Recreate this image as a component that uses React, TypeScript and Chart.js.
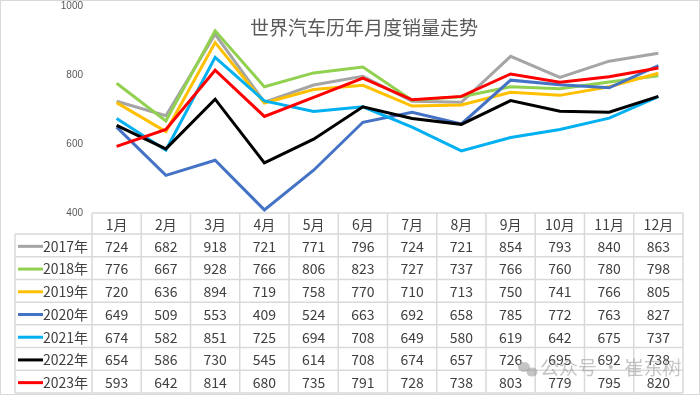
import React, { useEffect, useRef } from "react";
import { Chart, registerables } from "chart.js";

Chart.register(...registerables);

const months = ["1月", "2月", "3月", "4月", "5月", "6月", "7月", "8月", "9月", "10月", "11月", "12月"];
const years = ["2017年", "2018年", "2019年", "2020年", "2021年", "2022年", "2023年"];
const colors = ["#A5A5A5", "#92D050", "#FFC000", "#4472C4", "#00B0F0", "#000000", "#FF0000"];

const s2017 = [724, 682, 918, 721, 771, 796, 724, 721, 854, 793, 840, 863];
const s2018 = [776, 667, 928, 766, 806, 823, 727, 737, 766, 760, 780, 798];
const s2019 = [720, 636, 894, 719, 758, 770, 710, 713, 750, 741, 766, 805];
const s2020 = [649, 509, 553, 409, 524, 663, 692, 658, 785, 772, 763, 827];
const s2021 = [674, 582, 851, 725, 694, 708, 649, 580, 619, 642, 675, 737];
const s2022 = [654, 586, 730, 545, 614, 708, 674, 657, 726, 695, 692, 738];
const s2023 = [593, 642, 814, 680, 735, 791, 728, 738, 803, 779, 795, 820];
const series = [s2017, s2018, s2019, s2020, s2021, s2022, s2023];

const title = "世界汽车历年月度销量走势";
const watermark = "公众号 · 崔东树";

const CJK = '"Noto Sans CJK SC", "Microsoft YaHei", sans-serif';

const tablePlugin = {
  id: "tablePlugin",
  afterDraw(chart: any) {
    const ctx = chart.ctx as CanvasRenderingContext2D;
    const x = chart.scales.x;
    const area = chart.chartArea;
    const n = months.length;
    const colW = (area.right - area.left) / n;
    const headTop = area.bottom;
    const headBot = headTop + 21;
    const tableBot = 393;
    const rowH = (tableBot - headBot) / years.length;
    const legendLeft = 15;
    ctx.save();
    // title
    ctx.fillStyle = "#595959";
    ctx.font = `19px ${CJK}`;
    ctx.textAlign = "center";
    ctx.textBaseline = "middle";
    ctx.fillText(title, 364, 28);

    // grid
    ctx.strokeStyle = "#D9D9D9";
    ctx.lineWidth = 1.5;
    ctx.beginPath();
    ctx.moveTo(area.left, headTop);
    ctx.lineTo(area.right, headTop);
    for (let r = 0; r <= years.length; r++) {
      const y = headBot + r * rowH;
      ctx.moveTo(legendLeft, y);
      ctx.lineTo(area.right, y);
    }
    for (let c = 0; c <= n; c++) {
      const xx = area.left + c * colW;
      ctx.moveTo(xx, headTop);
      ctx.lineTo(xx, tableBot);
    }
    ctx.moveTo(legendLeft, headBot);
    ctx.lineTo(legendLeft, tableBot);
    ctx.stroke();

    // header
    ctx.fillStyle = "#404040";
    ctx.font = `14px ${CJK}`;
    ctx.textAlign = "center";
    months.forEach((m, i) => {
      ctx.fillText(m, x.getPixelForValue(i), (headTop + headBot) / 2 + 1);
    });
    // rows
    series.forEach((s, r) => {
      const cy = headBot + r * rowH + rowH / 2 + 1;
      ctx.strokeStyle = colors[r];
      ctx.lineWidth = 3;
      ctx.beginPath();
      ctx.moveTo(18, cy);
      ctx.lineTo(43, cy);
      ctx.stroke();
      ctx.fillStyle = "#404040";
      ctx.textAlign = "right";
      ctx.fillText(years[r], 88, cy);
      ctx.textAlign = "center";
      s.forEach((v, i) => {
        ctx.fillText(String(v), x.getPixelForValue(i), cy);
      });
    });

    // watermark
    ctx.fillStyle = "rgba(150,150,150,0.55)";
    ctx.beginPath();
    ctx.ellipse(524, 367, 6, 5, 0, 0, Math.PI * 2);
    ctx.fill();
    ctx.beginPath();
    ctx.ellipse(532, 372, 5.5, 4.5, 0, 0, Math.PI * 2);
    ctx.fill();
    ctx.font = `19px ${CJK}`;
    ctx.textAlign = "left";
    ctx.fillText(watermark, 540, 368);

    // outer border
    ctx.strokeStyle = "#D9D9D9";
    ctx.lineWidth = 1;
    ctx.strokeRect(0.5, 0.5, 699, 394);
    ctx.restore();
  },
};

export default function App() {
  const ref = useRef<HTMLCanvasElement | null>(null);
  useEffect(() => {
    if (!ref.current) return;
    const chart = new Chart(ref.current, {
      type: "line",
      data: {
        labels: months,
        datasets: series.map((s, i) => ({
          label: years[i],
          data: s,
          borderColor: colors[i],
          backgroundColor: colors[i],
          borderWidth: 3,
          pointRadius: 0,
          tension: 0,
          order: series.length - 1 - i,
        })),
      },
      options: {
        responsive: false,
        animation: false,
        events: [],
        layout: { padding: { top: 6, bottom: 182, left: 0, right: 17 } },
        plugins: { legend: { display: false }, tooltip: { enabled: false }, title: { display: false } },
        scales: {
          x: { type: "category", display: false, offset: true },
          y: {
            min: 400,
            max: 1000,
            grid: { display: false, drawTicks: false },
            border: { display: false },
            ticks: {
              stepSize: 200,
              padding: 9,
              color: "#595959",
              font: { size: 10, family: "Liberation Sans, Arial, sans-serif" },
              callback: (v: any) => String(v),
            },
            afterFit: (scale: any) => {
              scale.width = 92;
              scale.paddingTop = 0;
              scale.paddingBottom = 0;
            },
          },
        },
      },
      plugins: [tablePlugin],
    });
    return () => chart.destroy();
  }, []);
  return (
    <div style={{ position: "fixed", left: 0, top: 0, width: 700, height: 395, background: "#fff" }}>
      <canvas ref={ref} width={700} height={395} style={{ width: 700, height: 395 }} />
    </div>
  );
}
